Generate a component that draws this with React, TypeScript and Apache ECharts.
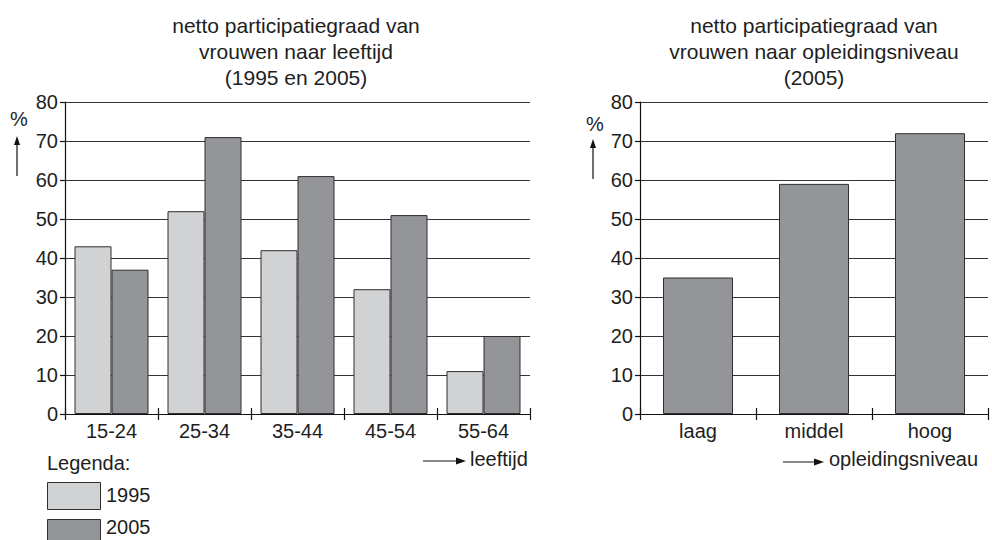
import React, { useEffect, useRef } from "react";
import * as echarts from "echarts";

const ageCategories = ["15-24", "25-34", "35-44", "45-54", "55-64"];
const participation1995 = [43, 52, 42, 32, 11];
const participation2005 = [37, 71, 61, 51, 20];
const educationCategories = ["laag", "middel", "hoog"];
const education2005 = [35, 59, 72];
const legendLabels = ["1995", "2005"];

const FONT = "'Liberation Sans', Arial, Helvetica, sans-serif";
const TXT = "#1e1e1e";
const LIGHT = "#d1d2d4";
const DARK = "#939598";
const EDGE = "#2e2e2e";

function arrowH(x1: number, x2: number, y: number) {
  return [
    { type: "line", shape: { x1, y1: y, x2: x2 - 6, y2: y }, style: { stroke: "#111", lineWidth: 1.2 } },
    { type: "polygon", shape: { points: [[x2, y], [x2 - 10, y - 3.5], [x2 - 10, y + 3.5]] }, style: { fill: "#111" } },
  ];
}
function arrowV(x: number, yTip: number, yEnd: number) {
  return [
    { type: "line", shape: { x1: x, y1: yTip + 5, x2: x, y2: yEnd }, style: { stroke: "#111", lineWidth: 1.2 } },
    { type: "polygon", shape: { points: [[x, yTip], [x - 3, yTip + 9], [x + 3, yTip + 9]] }, style: { fill: "#111" } },
  ];
}

export default function App() {
  const ref = useRef<HTMLDivElement>(null);
  useEffect(() => {
    if (!ref.current) return;
    const chart = echarts.init(ref.current, null, { renderer: "svg" });
    const yAxisBase = {
      type: "value",
      min: 0,
      max: 80,
      interval: 10,
      axisLine: { show: true, lineStyle: { color: "#111", width: 1.2 } },
      axisTick: { show: true, length: 5, lineStyle: { color: "#111", width: 1.2 } },
      axisLabel: { fontSize: 20, color: TXT, fontFamily: FONT, margin: 7 },
      splitLine: { show: true, lineStyle: { color: "#333", width: 1 } },
    };
    const xAxisMain = (gridIndex: number, data: string[]) => ({
      type: "category",
      gridIndex,
      data,
      position: "bottom",
      axisLine: { show: true, lineStyle: { color: "#111", width: 1.2 } },
      axisTick: { show: true, length: 6, lineStyle: { color: "#111", width: 1.2 } },
      axisLabel: { fontSize: 20, color: TXT, fontFamily: FONT, margin: 7 },
      splitLine: { show: false },
    });
    const xAxisInner = (gridIndex: number, data: string[]) => ({
      type: "category",
      gridIndex,
      data,
      position: "bottom",
      offset: 0,
      axisLine: { show: false },
      axisTick: { show: true, inside: true, length: 6, lineStyle: { color: "#111", width: 1.2 } },
      axisLabel: { show: false },
      splitLine: { show: false },
    });
    const legendColors = [LIGHT, DARK];
    const legendTextY = [495, 527];
    const legendGraphics: any[] = [];
    legendLabels.forEach((lab, i) => {
      const y0 = 482 + i * 37;
      legendGraphics.push({
        type: "rect",
        shape: { x: 47.5, y: y0 + 0.5, width: 53, height: 27 },
        style: { fill: legendColors[i], stroke: EDGE, lineWidth: 1 },
      });
      legendGraphics.push({
        type: "text",
        x: 106,
        y: legendTextY[i],
        style: { text: lab, fontSize: 20, fill: TXT, fontFamily: FONT, verticalAlign: "middle" },
      });
    });
    const option = {
      animation: false,
      backgroundColor: "#ffffff",
      textStyle: { fontFamily: FONT },
      title: [
        {
          text: "netto participatiegraad van\nvrouwen naar leeftijd\n(1995 en 2005)",
          left: 296,
          top: 12,
          textAlign: "center",
          padding: 0,
          textStyle: { fontSize: 21, fontWeight: "normal", lineHeight: 26, color: TXT, fontFamily: FONT },
        },
        {
          text: "netto participatiegraad van\nvrouwen naar opleidingsniveau\n(2005)",
          left: 814,
          top: 12,
          textAlign: "center",
          padding: 0,
          textStyle: { fontSize: 21, fontWeight: "normal", lineHeight: 26, color: TXT, fontFamily: FONT },
        },
      ],
      grid: [
        { left: 65, top: 102, width: 465, height: 312 },
        { left: 640, top: 102, width: 348, height: 312 },
      ],
      xAxis: [
        xAxisMain(0, ageCategories),
        xAxisInner(0, ageCategories),
        xAxisMain(1, educationCategories),
        xAxisInner(1, educationCategories),
      ],
      yAxis: [
        { ...yAxisBase, gridIndex: 0 },
        { ...yAxisBase, gridIndex: 1 },
      ],
      series: [
        {
          name: legendLabels[0],
          type: "bar",
          xAxisIndex: 0,
          yAxisIndex: 0,
          data: participation1995,
          barWidth: 37,
          barGap: "0%",
          itemStyle: { color: LIGHT, borderColor: EDGE, borderWidth: 1 },
        },
        {
          name: legendLabels[1],
          type: "bar",
          xAxisIndex: 0,
          yAxisIndex: 0,
          data: participation2005,
          barWidth: 37,
          barGap: "0%",
          itemStyle: { color: DARK, borderColor: EDGE, borderWidth: 1 },
        },
        {
          name: "2005 opleiding",
          type: "bar",
          xAxisIndex: 2,
          yAxisIndex: 1,
          data: education2005,
          barWidth: 70,
          itemStyle: { color: DARK, borderColor: EDGE, borderWidth: 1 },
        },
      ],
      graphic: [
        { type: "text", left: 10, top: 109, style: { text: "%", fontSize: 20, fill: TXT, fontFamily: FONT } },
        ...arrowV(17, 136, 176),
        { type: "text", left: 586, top: 114, style: { text: "%", fontSize: 20, fill: TXT, fontFamily: FONT } },
        ...arrowV(593, 139, 179),
        { type: "text", x: 47, y: 463, style: { text: "Legenda:", fontSize: 20, fill: TXT, fontFamily: FONT, verticalAlign: "middle" } },
        ...legendGraphics,
        ...arrowH(423, 466, 461),
        { type: "text", x: 470, y: 459, style: { text: "leeftijd", fontSize: 20, fill: TXT, fontFamily: FONT, verticalAlign: "middle" } },
        ...arrowH(783, 824, 462),
        { type: "text", x: 829, y: 459, style: { text: "opleidingsniveau", fontSize: 20, fill: TXT, fontFamily: FONT, verticalAlign: "middle" } },
      ],
    };
    chart.setOption(option as any);
    return () => chart.dispose();
  }, []);
  return (
    <div
      ref={ref}
      style={{ position: "absolute", left: 0, top: 0, width: 992, height: 540 }}
    />
  );
}
